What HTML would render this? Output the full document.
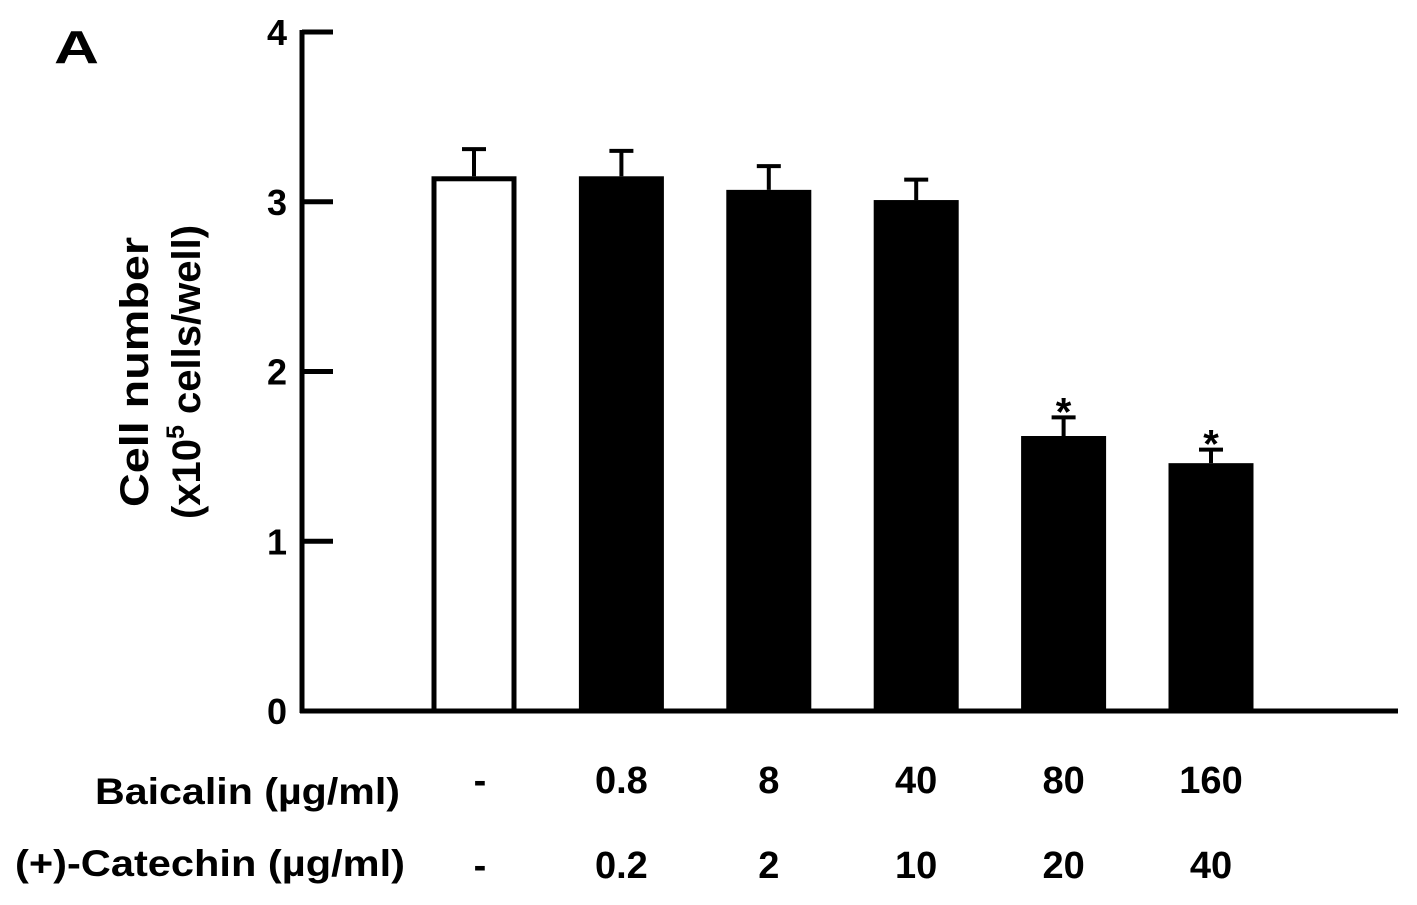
<!DOCTYPE html>
<html><head><meta charset="utf-8"><style>
body{margin:0;background:#fff}
svg text{font-family:"Liberation Sans",Arial,sans-serif;font-weight:bold;fill:#000}
</style></head><body>
<svg width="1417" height="900" viewBox="0 0 1417 900">
<text x="54" y="63" font-size="46" textLength="45" lengthAdjust="spacingAndGlyphs">A</text>
<g transform="translate(148,372) rotate(-90)">
<text x="0" y="0" font-size="40" text-anchor="middle" textLength="270" lengthAdjust="spacingAndGlyphs">Cell number</text>
<text x="0" y="52" font-size="40" text-anchor="middle">(x10<tspan font-size="25" dy="-16">5</tspan><tspan dy="16"> cells/well)</tspan></text>
</g>
<g id="plot"></g>
<g id="labels">
<text x="95" y="804" font-size="37" textLength="305" lengthAdjust="spacingAndGlyphs">Baicalin (µg/ml)</text>
<text x="15" y="876" font-size="37" textLength="390" lengthAdjust="spacingAndGlyphs">(+)-Catechin (µg/ml)</text>
</g>
</svg>
<script>
const categories=["control","0.8/0.2","8/2","40/10","80/20","160/40"];
const baicalin=["-","0.8","8","40","80","160"];
const catechin=["-","0.2","2","10","20","40"];
const values=[3.15,3.15,3.07,3.01,1.62,1.46];
const errors=[0.16,0.15,0.14,0.12,0.11,0.08];
const significant=[false,false,false,false,true,true];
const yTicks=[0,1,2,3,4];
const NS="http://www.w3.org/2000/svg";
const plot=document.getElementById('plot');
const labels=document.getElementById('labels');
const y0=711,y4=32;
function yScale(v){return y0-(v/4)*(y0-y4);}
const barCenters0=474,barStep=147.4,barW=85;
function xScale(i){return barCenters0+i*barStep;}
function mk(tag,attrs,parent){const e=document.createElementNS(NS,tag);for(const k in attrs)e.setAttribute(k,attrs[k]);(parent||plot).appendChild(e);return e;}
let ya=mk('line',{x1:302,y1:30,x2:302,y2:713,stroke:'#000','stroke-width':5});


let xa=mk('line',{x1:300,y1:711,x2:1398,y2:711,stroke:'#000','stroke-width':5});


yTicks.forEach(t=>{
  const y=yScale(t);
  if(t>0){const l=mk('line',{x1:302,y1:y,x2:333,y2:y,stroke:'#000','stroke-width':5});
  
  }
  const tx=mk('text',{x:287,y:y+13,'font-size':36,'text-anchor':'end'});
  tx.textContent=t;
  
  
});
values.forEach((v,i)=>{
  const cx=xScale(i),top=yScale(v),et=yScale(v+errors[i]);
  const ln=mk('line',{x1:cx,y1:top,x2:cx,y2:et,stroke:'#000','stroke-width':4});
  
  
  const cap=mk('line',{x1:cx-12,y1:et,x2:cx+12,y2:et,stroke:'#000','stroke-width':4});
  
  
  let r;
  if(i===0){r=mk('rect',{x:cx-barW/2+2.5,y:top+2.5,width:barW-5,height:y0-top-2.5,fill:'#fff',stroke:'#000','stroke-width':5});}
  else{r=mk('rect',{x:cx-barW/2,y:top,width:barW,height:y0-top,fill:'#000'});}
  
  
  if(significant[i]){
    const s=mk('text',{x:cx,y:et+8,'font-size':40,'text-anchor':'middle'});
    s.textContent='*';
    
    
  }
  const b=mk('text',{x:cx+(i==0?6:0),y:793,'font-size':38,'text-anchor':'middle'},labels);
  b.textContent=baicalin[i];
  
  
  const c=mk('text',{x:cx+(i==0?6:0),y:878,'font-size':38,'text-anchor':'middle'},labels);
  c.textContent=catechin[i];
  
  
});
</script>
</body></html>
